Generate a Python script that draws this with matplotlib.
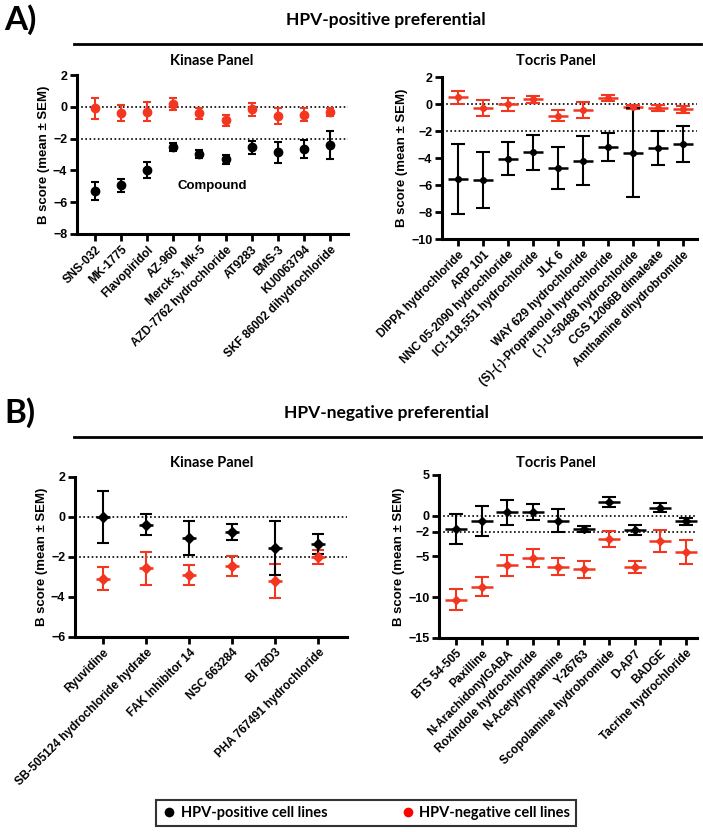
import matplotlib
matplotlib.use("Agg")
import matplotlib.pyplot as plt
from matplotlib.lines import Line2D

RED = "#f2361f"
TICK_FONT = "Liberation Sans"
HEAD_FONT = "Lato"

# A) HPV-positive preferential, kinase panel
kin_pos_names = ["SNS-032", "MK-1775", "Flavopiridol", "AZ-960", "Merck-5, Mk-5",
                 "AZD-7762 hydrochloride", "AT9283", "BMS-3", "KU0063794",
                 "SKF 86002 dihydrochloride"]
kin_pos_hpvpos = [-5.3, -4.95, -4.0, -2.55, -2.95, -3.3, -2.55, -2.87, -2.65, -2.4]
kin_pos_hpvpos_sem = [0.55, 0.4, 0.5, 0.25, 0.25, 0.3, 0.4, 0.65, 0.55, 0.87]
kin_pos_hpvneg = [-0.1, -0.4, -0.3, 0.15, -0.4, -0.85, -0.15, -0.55, -0.5, -0.35]
kin_pos_hpvneg_sem = [0.65, 0.5, 0.6, 0.38, 0.35, 0.35, 0.4, 0.5, 0.4, 0.25]

# A) HPV-positive preferential, Tocris panel
toc_pos_names = ["DIPPA hydrochloride", "ARP 101", "NNC 05-2090 hydrochloride",
                 "ICI-118,551 hydrochloride", "JLK 6", "WAY 629 hydrochloride",
                 "(S)-(-)-Propranolol hydrochloride", "(-)-U-50488 hydrochloride",
                 "CGS 12066B dimaleate", "Amthamine dihydrobromide"]
toc_pos_hpvpos = [-5.53, -5.6, -4.05, -3.58, -4.74, -4.2, -3.16, -3.6, -3.26, -2.96]
toc_pos_hpvpos_sem = [2.6, 2.07, 1.22, 1.3, 1.57, 1.8, 1.04, 3.3, 1.26, 1.37]
toc_pos_hpvneg = [0.5, -0.32, 0.0, 0.35, -0.86, -0.44, 0.47, -0.2, -0.27, -0.4]
toc_pos_hpvneg_sem = [0.5, 0.6, 0.48, 0.27, 0.4, 0.56, 0.22, 0.15, 0.22, 0.27]

# B) HPV-negative preferential, kinase panel
kin_neg_names = ["Ryuvidine", "SB-505124 hydrochloride hydrate", "FAK Inhibitor 14",
                 "NSC 663284", "BI 78D3", "PHA 767491 hydrochloride"]
kin_neg_hpvpos = [0.0, -0.38, -1.05, -0.75, -1.55, -1.37]
kin_neg_hpvpos_sem = [1.3, 0.52, 0.83, 0.42, 1.33, 0.5]
kin_neg_hpvneg = [-3.08, -2.57, -2.88, -2.45, -3.2, -2.0]
kin_neg_hpvneg_sem = [0.58, 0.82, 0.5, 0.52, 0.83, 0.33]

# B) HPV-negative preferential, Tocris panel
toc_neg_names = ["BTS 54-505", "Paxilline", "N-ArachidonylGABA", "Roxindole hydrochloride",
                 "N-Acetyltryptamine", "Y-26763", "Scopolamine hydrobromide", "D-AP7",
                 "BADGE", "Tacrine hydrochloride"]
toc_neg_hpvpos = [-1.6, -0.7, 0.4, 0.45, -0.6, -1.63, 1.7, -1.8, 1.0, -0.7]
toc_neg_hpvpos_sem = [1.85, 1.85, 1.5, 1.0, 1.4, 0.33, 0.65, 0.6, 0.5, 0.43]
toc_neg_hpvneg = [-10.3, -8.7, -6.1, -5.2, -6.25, -6.6, -2.86, -6.25, -3.06, -4.4]
toc_neg_hpvneg_sem = [1.3, 1.2, 1.3, 1.15, 1.0, 1.05, 1.04, 0.75, 1.35, 1.47]

fig = plt.figure(figsize=(7.03, 8.32), dpi=100)


def panel(rect, names, pos, pos_sem, neg, neg_sem, ylim, yticks, xlim,
          marker, msize, capsize, meanline=0):
    ax = fig.add_axes(rect)
    x = list(range(len(names)))
    for vals, sem, col in [(neg, neg_sem, RED), (pos, pos_sem, "black")]:
        ax.errorbar(x, vals, yerr=sem, fmt=marker, color=col, ms=msize,
                    capsize=capsize, elinewidth=1.5, capthick=1.5, zorder=3)
        if meanline:
            ax.plot(x, vals, "_", color=col, ms=meanline, mew=1.8, zorder=3)
    ax.axhline(0, color="black", ls=(0, (1, 1.5)), lw=1.2, zorder=1)
    ax.axhline(-2, color="black", ls=(0, (1, 1.5)), lw=1.2, zorder=1)
    ax.set_xlim(*xlim)
    ax.set_ylim(*ylim)
    ax.set_yticks(yticks)
    ax.set_xticks(x)
    ax.set_xticklabels(names, rotation=45, ha="right", rotation_mode="anchor",
                       fontsize=8.5, fontweight="bold", family=TICK_FONT)
    for lab in ax.get_yticklabels():
        lab.set_fontsize(9)
        lab.set_fontweight("bold")
        lab.set_family(TICK_FONT)
    ax.set_ylabel("B score (mean \u00b1 SEM)", fontsize=9.5, fontweight="bold",
                  family=TICK_FONT, labelpad=2)
    for s in ["top", "right"]:
        ax.spines[s].set_visible(False)
    for s in ["left", "bottom"]:
        ax.spines[s].set_linewidth(2.2)
    ax.tick_params(width=2, length=5, pad=2)
    return ax


ax1 = panel([0.1095, 0.7188, 0.3855, 0.191], kin_pos_names, kin_pos_hpvpos,
            kin_pos_hpvpos_sem, kin_pos_hpvneg, kin_pos_hpvneg_sem,
            (-8, 2), [2, 0, -2, -4, -6, -8], (-0.7, 9.7), "o", 6, 3)
ax1.text(4.5, -5.0, "Compound", fontsize=9.5, fontweight="bold", family=TICK_FONT,
         ha="center", va="center")

ax2 = panel([0.6287, 0.7127, 0.3627, 0.1947], toc_pos_names, toc_pos_hpvpos,
            toc_pos_hpvpos_sem, toc_pos_hpvneg, toc_pos_hpvneg_sem,
            (-10, 2), [2, 0, -2, -4, -6, -8, -10], (-0.64, 9.56), "o", 4, 5, 14)

ax3 = panel([0.1067, 0.2344, 0.387, 0.1923], kin_neg_names, kin_neg_hpvpos,
            kin_neg_hpvpos_sem, kin_neg_hpvneg, kin_neg_hpvneg_sem,
            (-6, 2), [2, 0, -2, -4, -6], (-0.65, 5.67), "D", 5, 4, 10)

ax4 = panel([0.6245, 0.2332, 0.367, 0.196], toc_neg_names, toc_neg_hpvpos,
            toc_neg_hpvpos_sem, toc_neg_hpvneg, toc_neg_hpvneg_sem,
            (-15, 5), [5, 0, -2, -5, -10, -15], (-0.67, 9.45), "D", 4.5, 5, 16)


def fy(py):
    return 1 - py / 832


def fx(px):
    return px / 703


# section headers
for lab, title, ty, ly, sy in [("A)", "HPV-positive preferential", 20, 44, 61),
                               ("B)", "HPV-negative preferential", 413, 437, 463)]:
    fig.text(fx(4), fy(ty), lab, fontsize=24, fontweight="bold", family=HEAD_FONT,
             va="center", ha="left")
    fig.text(fx(386), fy(ty), title, fontsize=12.5, fontweight="bold", family=HEAD_FONT,
             va="center", ha="center")
    fig.add_artist(Line2D([fx(74), fx(701)], [fy(ly), fy(ly)], color="black", lw=2))
    fig.text(fx(212), fy(sy), "Kinase Panel", fontsize=10.5, fontweight="bold",
             family=HEAD_FONT, va="center", ha="center")
    fig.text(fx(556), fy(sy), "Tocris Panel", fontsize=10.5, fontweight="bold",
             family=HEAD_FONT, va="center", ha="center")

handles = [Line2D([0], [0], marker="o", color="w", markerfacecolor="black", markersize=8,
                  label="HPV-positive cell lines"),
           Line2D([0], [0], marker="o", color="w", markerfacecolor="red", markersize=8,
                  label="HPV-negative cell lines")]
leg = fig.legend(handles=handles, loc="center", bbox_to_anchor=(fx(366), fy(813)),
                 ncol=2, frameon=True, fancybox=False, handletextpad=0.3,
                 columnspacing=5, handlelength=1,
                 prop={"family": HEAD_FONT, "weight": "bold", "size": 10.5})
leg.get_frame().set_edgecolor("black")
leg.get_frame().set_linewidth(1.5)

fig.savefig("out.png", dpi=100)
